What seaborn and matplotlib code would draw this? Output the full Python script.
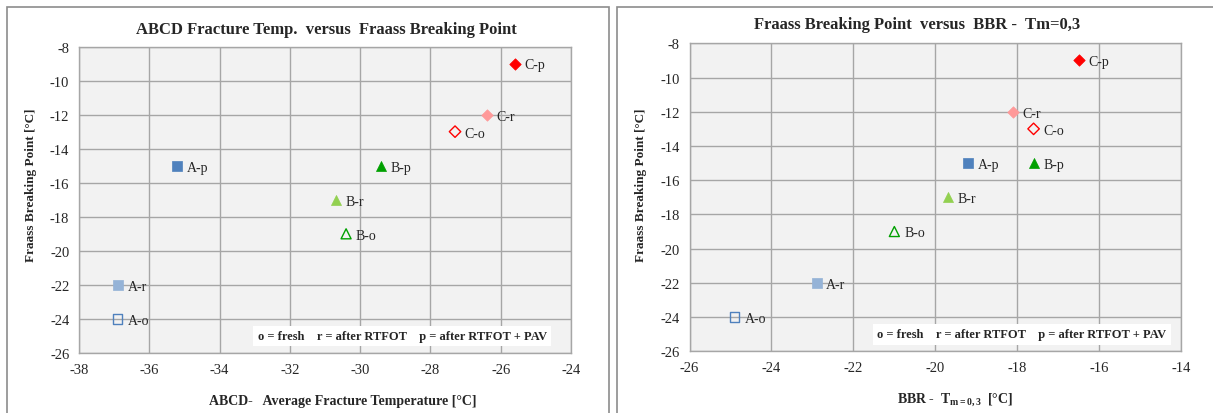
import pandas as pd
import matplotlib
matplotlib.use("Agg")
import matplotlib.pyplot as plt
import seaborn as sns
from matplotlib.patches import Rectangle

# ------------------------------------------
# data
# ------------------------------------------
labels = ["A-o", "A-r", "A-p", "B-o", "B-r", "B-p", "C-o", "C-r", "C-p"]
abcd_temp = [-36.9, -36.9, -35.2, -30.4, -30.7, -29.4, -27.3, -26.4, -25.6]
bbr_temp = [-24.9, -22.9, -19.2, -21.0, -19.7, -17.6, -17.6, -18.1, -16.5]
fraass = [-24, -22, -15, -19, -17, -15, -13, -12, -9]

left_xticks = [-38, -36, -34, -32, -30, -28, -26, -24]
right_xticks = [-26, -24, -22, -20, -18, -16, -14]
yticks = [-26, -24, -22, -20, -18, -16, -14, -12, -10, -8]

note = "o = fresh    r = after RTFOT    p = after RTFOT + PAV"

df = pd.DataFrame({"label": labels, "abcd": abcd_temp, "bbr": bbr_temp, "fraass": fraass})

# marker per binder, colour per ageing state
markers = {"A": "s", "B": "^", "C": "D"}
sizes = {"A": 48, "B": 52, "C": 34}
colors = {
    "A": {"p": "#4f81bd", "r": "#95b3d7", "o": "#4f81bd"},
    "B": {"p": "#00a000", "r": "#92d050", "o": "#00a000"},
    "C": {"p": "#ff0000", "r": "#ff9999", "o": "#ff0000"},
}

sns.set_style("whitegrid", {"axes.facecolor": "#f2f2f2", "grid.color": "#a6a6a6",
                            "axes.edgecolor": "#a6a6a6"})
plt.rcParams["font.family"] = ["Liberation Serif", "DejaVu Serif"]
plt.rcParams["mathtext.fontset"] = "custom"
plt.rcParams["mathtext.rm"] = "Liberation Serif"
plt.rcParams["mathtext.bf"] = "Liberation Serif:bold"
plt.rcParams["mathtext.it"] = "Liberation Serif:italic"

fig = plt.figure(figsize=(12.13, 4.14), dpi=100)
W, H = 1213, 414

# panel frames (Excel chart areas)
fig.patches.append(Rectangle((7 / W, -0.05), 602 / W, 1 - 8 / H + 0.05, transform=fig.transFigure,
                             fill=False, edgecolor="#8c8c8c", linewidth=1.2))
fig.patches.append(Rectangle((617 / W, -0.05), 0.5, 1 - 8 / H + 0.05, transform=fig.transFigure,
                             fill=False, edgecolor="#8c8c8c", linewidth=1.2))

ax1 = fig.add_axes([79 / W, 1 - 354 / H, 492 / W, 306.5 / H])
ax2 = fig.add_axes([689.6 / W, 1 - 352.3 / H, 491.4 / W, 308 / H])


def draw_panel(ax, xcol, xticks, note_x):
    for _, row in df.iterrows():
        grp, state = row["label"].split("-")
        col = colors[grp][state]
        if state == "o":
            sns.scatterplot(x=[row[xcol]], y=[row["fraass"]], marker=markers[grp], s=sizes[grp],
                            facecolor="none", edgecolor=col, linewidth=1.0, ax=ax, zorder=3)
        else:
            sns.scatterplot(x=[row[xcol]], y=[row["fraass"]], marker=markers[grp], s=sizes[grp],
                            color=col, edgecolor=col, linewidth=0.5, ax=ax, zorder=3)
        ax.annotate(row["label"], (row[xcol], row["fraass"]), xytext=(7, -1),
                    textcoords="offset points", va="center", ha="left", fontsize=10, zorder=4)
    ax.set_xlim(xticks[0], xticks[-1])
    ax.set_ylim(-26, -8)
    ax.set_xticks(xticks)
    ax.set_yticks(yticks)
    ax.set_xticklabels([str(t) for t in xticks])
    ax.set_yticklabels([str(t) for t in yticks])
    ax.tick_params(axis="both", labelsize=10.5, length=4, color="#a6a6a6", pad=3)
    ax.grid(True, linewidth=1.0)
    for sp in ax.spines.values():
        sp.set_color("#a6a6a6")
        sp.set_linewidth(1.0)
    ax.set_xlabel("")
    ax.set_ylabel("")
    # note box: x in axes fraction, y in data units
    ax.annotate(note, xy=(note_x, -25), xycoords=("axes fraction", "data"),
                ha="center", va="center", fontsize=9, fontweight="bold", zorder=5,
                bbox=dict(boxstyle="square,pad=0.35", facecolor="white", edgecolor="none"))


draw_panel(ax1, "abcd", left_xticks, 0.657)
draw_panel(ax2, "bbr", right_xticks, 0.676)

fig.text(326 / W, 1 - 30 / H, "ABCD Fracture Temp.  versus  Fraass Breaking Point",
         ha="center", va="center", fontsize=12, fontweight="bold")
fig.text(917 / W, 1 - 25 / H, "Fraass Breaking Point  versus  BBR -  Tm=0,3",
         ha="center", va="center", fontsize=12, fontweight="bold")

fig.text(343 / W, 1 - 402 / H, "ABCD-   Average Fracture Temperature [°C]",
         ha="center", va="center", fontsize=10, fontweight="bold")
fig.text(955 / W, 1 - 400 / H, r"BBR -  T$_{\mathbf{m=0,3}}$  [°C]",
         ha="center", va="center", fontsize=10, fontweight="bold")

fig.text(31 / W, 1 - 185 / H, "Fraass Breaking Point [°C]", rotation=90,
         ha="center", va="center", fontsize=9.5, fontweight="bold")
fig.text(641 / W, 1 - 185 / H, "Fraass Breaking Point [°C]", rotation=90,
         ha="center", va="center", fontsize=9.5, fontweight="bold")

fig.savefig("out.png", dpi=100)
plt.close(fig)
